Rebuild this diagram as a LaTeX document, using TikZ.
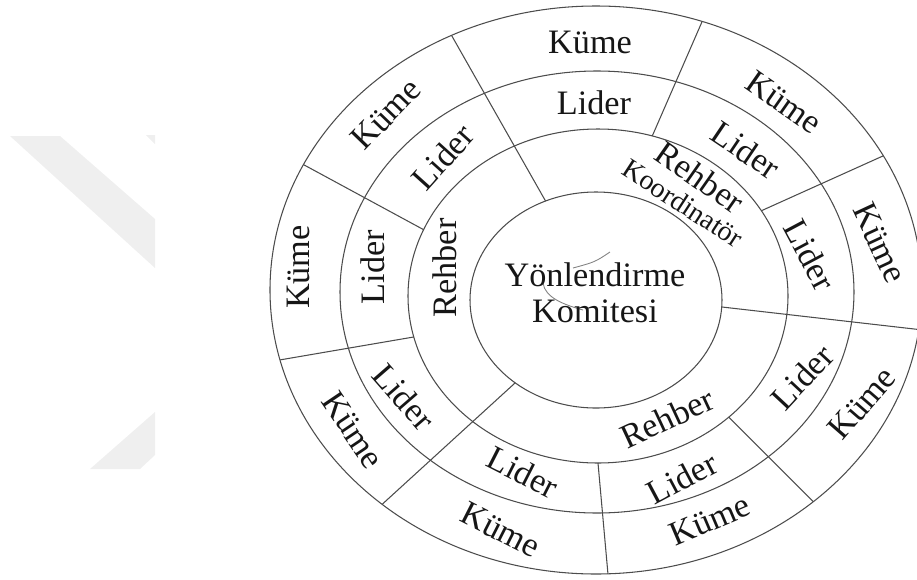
\documentclass[tikz,border=0pt]{standalone}
\usepackage{fontspec}
\setmainfont{Liberation Serif}
\usetikzlibrary{calc}
\definecolor{ink}{HTML}{161616}
\definecolor{rim}{HTML}{4C4C4C}
\definecolor{wmark}{HTML}{EFEFEF}

\begin{document}
\begin{tikzpicture}[x=0.02cm,y=-0.02cm,
  ring/.style={draw=rim,line width=0.6pt},
  lbl/.style={inner sep=0pt,text=ink,font=\fontsize{19.5}{20.5}\selectfont},
  sml/.style={inner sep=0pt,text=ink,font=\fontsize{16}{18}\selectfont}]
\useasboundingbox (0,0) rectangle (917,579);
\fill[wmark] (10,136)--(60,136)--(155,219)--(155,268)--cycle;
\fill[wmark] (146,135)--(155,135)--(155,144)--cycle;
\fill[wmark] (90,469)--(155,412)--(155,455)--(140,469)--cycle;
\coordinate (c0) at (596,290);
\coordinate (c3) at (597,292);
\coordinate (c2) at (598,296);
\coordinate (c1) at (596,300);
\draw[ring] (c0) ellipse[x radius=326,y radius=284];
\draw[ring] (c3) ellipse[x radius=257,y radius=221];
\draw[ring] (c2) ellipse[x radius=190,y radius=167];
\draw[ring] (c1) ellipse[x radius=126,y radius=108];
\draw[ring] ($(c1)+(-113.6:126 and 108)$) -- ($(c0)+(-116.3:326 and 284)$);
\draw[ring] ($(c2)+(-73.4:190 and 167)$) -- ($(c0)+(-71:326 and 284)$);
\draw[ring] ($(c2)+(-30.7:190 and 167)$) -- ($(c0)+(-28.2:326 and 284)$);
\draw[ring] ($(c1)+(3.7:126 and 108)$) -- ($(c0)+(8:326 and 284)$);
\draw[ring] ($(c2)+(46.5:190 and 167)$) -- ($(c0)+(48.2:326 and 284)$);
\draw[ring] ($(c2)+(90:190 and 167)$) -- ($(c0)+(87.9:326 and 284)$);
\draw[ring] ($(c1)+(129.9:126 and 108)$) -- ($(c0)+(131:326 and 284)$);
\draw[ring] ($(c2)+(165.8:190 and 167)$) -- ($(c0)+(165.75:326 and 284)$);
\draw[ring] ($(c2)+(-156.6:190 and 167)$) -- ($(c0)+(-153.8:326 and 284)$);
\draw[rim!70,line width=0.5pt] (610,252) .. controls (595,262) .. (573,268);
\draw[rim!70,line width=0.5pt] (543,283) .. controls (545,298) and (565,305) .. (583,310);
\node[lbl,align=center] (komite) at (595,293) {Yönlendirme\\Komitesi};
\node[lbl,rotate=90] (rehber1) at (445,268) {Rehber};
\node[lbl,rotate=-35] (rehber2) at (700,177) {Rehber};
\node[sml,rotate=-33] (koord) at (683,203) {Koordinatör};
\node[lbl,rotate=25] (rehber3) at (667,418) {Rehber};
\node[lbl] (lider1) at (594,103) {Lider};
\node[lbl,rotate=-34] (lider2) at (746,150) {Lider};
\node[lbl,rotate=-62] (lider3) at (810,255) {Lider};
\node[lbl,rotate=47] (lider4) at (802,377) {Lider};
\node[lbl,rotate=28] (lider5) at (682,478) {Lider};
\node[lbl,rotate=-27] (lider6) at (523,472) {Lider};
\node[lbl,rotate=-49] (lider7) at (404,397) {Lider};
\node[lbl,rotate=90] (lider8) at (373,267) {Lider};
\node[lbl,rotate=48] (lider9) at (443,157) {Lider};
\node[lbl] (kume1) at (590,42) {Küme};
\node[lbl,rotate=-35] (kume2) at (784,102) {Küme};
\node[lbl,rotate=-65] (kume3) at (880,243) {Küme};
\node[lbl,rotate=49] (kume4) at (862,403) {Küme};
\node[lbl,rotate=23] (kume5) at (710,520) {Küme};
\node[lbl,rotate=-27] (kume6) at (501,530) {Küme};
\node[lbl,rotate=-56] (kume7) at (353,430) {Küme};
\node[lbl,rotate=90] (kume8) at (298,267) {Küme};
\node[lbl,rotate=46] (kume9) at (386,114) {Küme};
\end{tikzpicture}
\end{document}
